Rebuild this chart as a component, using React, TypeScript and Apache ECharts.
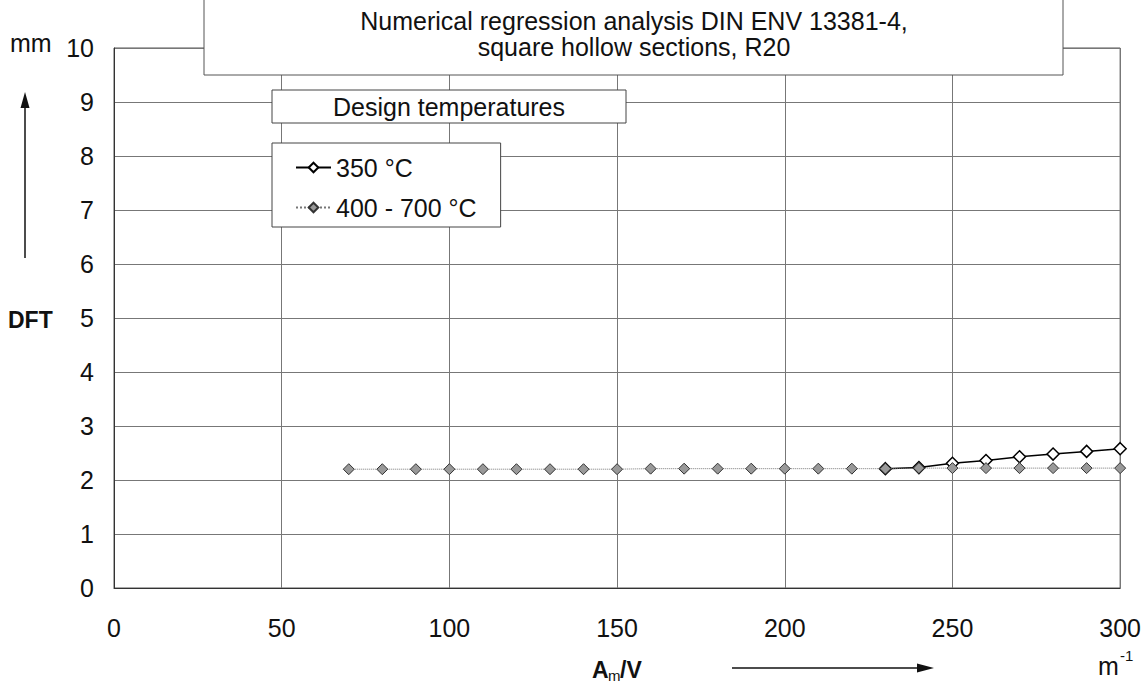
import React, { useEffect, useRef } from "react";
import * as echarts from "echarts";

const xValues = [70, 80, 90, 100, 110, 120, 130, 140, 150, 160, 170, 180, 190, 200, 210, 220, 230, 240, 250, 260, 270, 280, 290, 300];
// 350 °C curve is hidden under the 400-700 °C curve up to 220 m^-1
const dft350 = [null, null, null, null, null, null, null, null, null, null, null, null, null, null, null, null, 2.21, 2.23, 2.31, 2.36, 2.43, 2.48, 2.53, 2.58];
const dft400700 = [2.2, 2.2, 2.2, 2.2, 2.2, 2.2, 2.2, 2.2, 2.2, 2.21, 2.21, 2.21, 2.21, 2.21, 2.21, 2.21, 2.21, 2.22, 2.22, 2.22, 2.22, 2.22, 2.22, 2.22];
const seriesNames = ["350 °C", "400 - 700 °C"];
const titleLines = ["Numerical regression analysis DIN ENV 13381-4,", "square hollow sections, R20"];
const legendTitle = "Design temperatures";

const FONT = "'Liberation Sans', Arial, Helvetica, sans-serif";
const FS = 25;

export default function App() {
  const ref = useRef<HTMLDivElement>(null);
  useEffect(() => {
    if (!ref.current) return;
    const chart = echarts.init(ref.current, undefined, { renderer: "svg" });
    const pair = (ys: (number | null)[]) => xValues.map((x, i) => [x, ys[i] === null ? "-" : ys[i]]);
    chart.setOption({
      animation: false,
      backgroundColor: "#ffffff",
      textStyle: { fontFamily: FONT },
      grid: {
        left: 114,
        right: 23,
        top: 48,
        bottom: 97,
        show: true,
        borderColor: "#555",
        borderWidth: 1,
      },
      xAxis: {
        type: "value",
        min: 0,
        max: 300,
        interval: 50,
        axisLine: { show: true, onZero: false, lineStyle: { color: "#333", width: 1 } },
        axisTick: { show: false },
        axisLabel: { color: "#111", fontSize: FS, margin: 27, fontFamily: FONT },
        splitLine: { show: true, lineStyle: { color: "#777", width: 1 } },
      },
      yAxis: {
        type: "value",
        min: 0,
        max: 10,
        interval: 1,
        axisLine: { show: true, lineStyle: { color: "#333", width: 1 } },
        axisTick: { show: false },
        axisLabel: { color: "#111", fontSize: FS, margin: 20, fontFamily: FONT },
        splitLine: { show: true, lineStyle: { color: "#777", width: 1 } },
      },
      legend: {
        show: true,
        orient: "vertical",
        left: 272,
        top: 143,
        padding: [12, 24, 7, 23],
        itemGap: 15,
        itemWidth: 35,
        itemHeight: 12,
        backgroundColor: "#fff",
        borderColor: "#444",
        borderWidth: 1,
        borderRadius: 0,
        textStyle: { fontSize: FS, color: "#111", fontFamily: FONT },
        data: seriesNames,
      },
      series: [
        {
          name: seriesNames[0],
          type: "line",
          data: pair(dft350),
          symbol: "diamond",
          symbolSize: 12,
          lineStyle: { color: "#000", width: 1.5 },
          itemStyle: { color: "#fff", borderColor: "#000", borderWidth: 1.5 },
          z: 2,
        },
        {
          name: seriesNames[1],
          type: "line",
          data: pair(dft400700),
          symbol: "diamond",
          symbolSize: 11,
          lineStyle: { color: "#777", width: 1, type: "dotted" },
          itemStyle: { color: "#999", borderColor: "#333", borderWidth: 1 },
          z: 3,
        },
      ],
      graphic: [
        {
          type: "rect",
          shape: { x: 204, y: -2, width: 859, height: 77 },
          style: { fill: "#fff", stroke: "#555", lineWidth: 1 },
          z: 10,
        },
        {
          type: "text",
          x: 634,
          y: 21,
          style: { text: titleLines[0], fontSize: FS, fontFamily: FONT, fill: "#111", textAlign: "center", textVerticalAlign: "middle" },
          z: 11,
        },
        {
          type: "text",
          x: 634,
          y: 47,
          style: { text: titleLines[1], fontSize: FS, fontFamily: FONT, fill: "#111", textAlign: "center", textVerticalAlign: "middle" },
          z: 11,
        },
        {
          type: "rect",
          shape: { x: 272, y: 90, width: 354, height: 33 },
          style: { fill: "#fff", stroke: "#444", lineWidth: 1 },
          z: 10,
        },
        {
          type: "text",
          x: 449,
          y: 107,
          style: { text: legendTitle, fontSize: FS, fontFamily: FONT, fill: "#111", textAlign: "center", textVerticalAlign: "middle" },
          z: 11,
        },
        {
          type: "text",
          x: 10,
          y: 43,
          style: { text: "mm", fontSize: FS, fontFamily: FONT, fill: "#111", textAlign: "left", textVerticalAlign: "middle" },
        },
        {
          type: "text",
          x: 8,
          y: 320,
          style: { text: "DFT", fontSize: 23, fontWeight: "bold", fontFamily: FONT, fill: "#111", textAlign: "left", textVerticalAlign: "middle" },
        },
        {
          type: "line",
          shape: { x1: 25, y1: 258, x2: 25, y2: 104 },
          style: { stroke: "#111", lineWidth: 1.5 },
        },
        {
          type: "polygon",
          shape: { points: [[25, 92], [20.5, 108], [29.5, 108]] },
          style: { fill: "#111" },
        },
        {
          type: "line",
          shape: { x1: 732, y1: 668, x2: 920, y2: 668 },
          style: { stroke: "#111", lineWidth: 1.5 },
        },
        {
          type: "polygon",
          shape: { points: [[934, 668], [917, 663.5], [917, 672.5]] },
          style: { fill: "#111" },
        },
        {
          type: "text",
          x: 592,
          y: 670,
          style: { text: "A", fontSize: 23, fontWeight: "bold", fontFamily: FONT, fill: "#111", textAlign: "left", textVerticalAlign: "middle" },
        },
        {
          type: "text",
          x: 608,
          y: 675,
          style: { text: "m", fontSize: 15, fontFamily: FONT, fill: "#111", textAlign: "left", textVerticalAlign: "middle" },
        },
        {
          type: "text",
          x: 620,
          y: 670,
          style: { text: "/V", fontSize: 23, fontWeight: "bold", fontFamily: FONT, fill: "#111", textAlign: "left", textVerticalAlign: "middle" },
        },
        {
          type: "text",
          x: 1098,
          y: 666,
          style: { text: "m", fontSize: FS, fontFamily: FONT, fill: "#111", textAlign: "left", textVerticalAlign: "middle" },
        },
        {
          type: "text",
          x: 1120,
          y: 655,
          style: { text: "-1", fontSize: 15, fontFamily: FONT, fill: "#111", textAlign: "left", textVerticalAlign: "middle" },
        },
      ],
    });
    return () => chart.dispose();
  }, []);
  return (
    <div
      ref={ref}
      style={{ position: "fixed", left: 0, top: 0, width: 1144, height: 685, background: "#fff" }}
    />
  );
}
